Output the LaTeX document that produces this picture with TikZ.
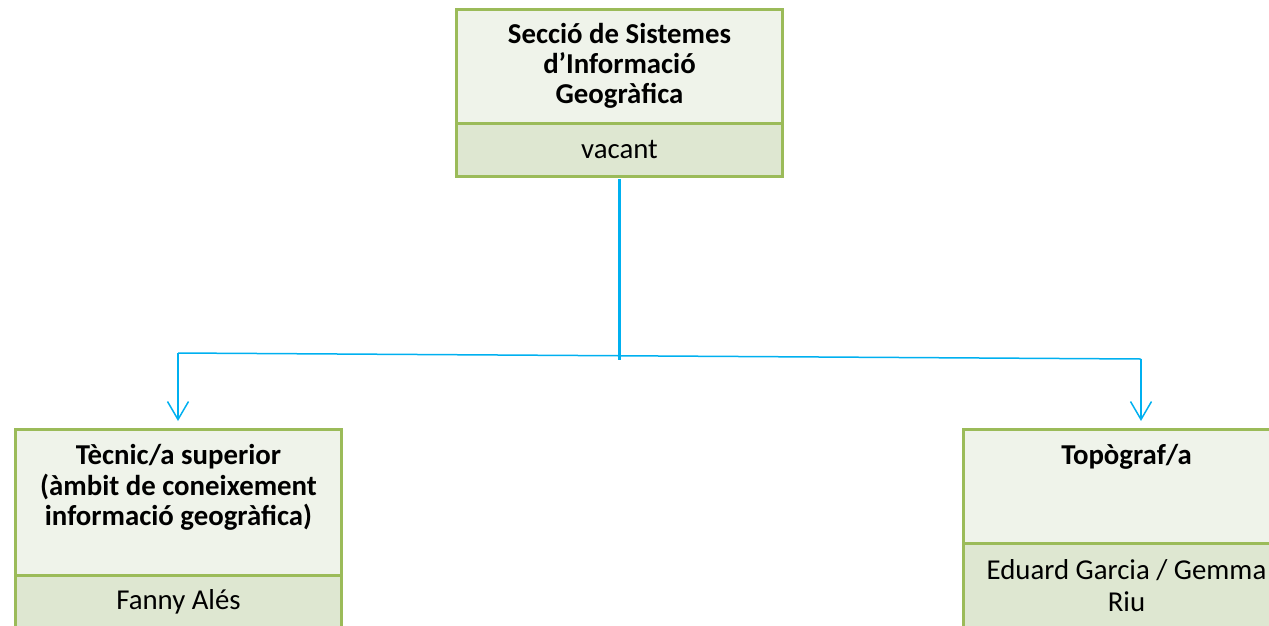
\documentclass[tikz,border=0pt]{standalone}
\usepackage{fontspec}
\setmainfont{Carlito}
\usetikzlibrary{arrows.meta,positioning}
\definecolor{boxline}{HTML}{9BBB59}
\definecolor{headfill}{HTML}{EFF3EA}
\definecolor{namefill}{HTML}{DEE7D1}
\definecolor{linkblue}{HTML}{00B0F0}

\begin{document}
\begin{tikzpicture}[
    x=1pt, y=-1pt,
    font=\fontsize{28.8}{29.8}\selectfont,
    head/.style={rectangle, draw=boxline, line width=3pt, fill=headfill, minimum width=326pt, outer sep=0pt, align=center, font=\fontsize{28.8}{29.8}\selectfont\bfseries},
    headtext/.style={align=center, font=\fontsize{28.8}{30.3}\selectfont\bfseries},
    person/.style={rectangle, draw=boxline, line width=3pt, fill=namefill, minimum width=326pt, outer sep=0pt, align=center},
    link/.style={draw=linkblue, line width=1.5pt},
    arrow/.style={link, -{Straight Barb[length=18pt, width=21pt]}, shorten >=8pt}
]
    \useasboundingbox (0,0) rectangle (1269,625);

    % top box
    \node[head, minimum height=114pt] (seccio) at (619.5,66) {Secció de Sistemes\\d’Informació\\Geogràfica};
    \node[person, minimum height=53pt, below=0pt of seccio] (vacant) {vacant};

    % left box
    \node[head, minimum height=146pt] (tecnic) at (178.5,502) {};
    \node[headtext, below=12pt of tecnic.north] (tecnictxt) {Tècnic/a superior\\(àmbit de coneixement\\informació geogràfica)};
    \node[person, minimum height=53pt, below=0pt of tecnic] (fanny) {Fanny Alés};

    % right box
    \node[head, minimum height=114pt] (topo) at (1126.5,486) {};
    \node[headtext, below=12pt of topo.north] (topotxt) {Topògraf/a};
    \node[person, minimum height=85pt, below=0pt of topo] (eduard) {Eduard Garcia / Gemma\\[3pt]Riu};

    \coordinate (junc) at (619.5,360);
    \coordinate (lturn) at (178,353);
    \coordinate (rturn) at (1141,359);

    \draw[link, line width=3.5pt, shorten <=3pt] (vacant) -- (junc);
    \draw[link] (lturn) -- (rturn);
    \draw[arrow] (lturn) -- (lturn |- tecnic.north);
    \draw[arrow] (rturn) -- (rturn |- topo.north);
\end{tikzpicture}
\end{document}
